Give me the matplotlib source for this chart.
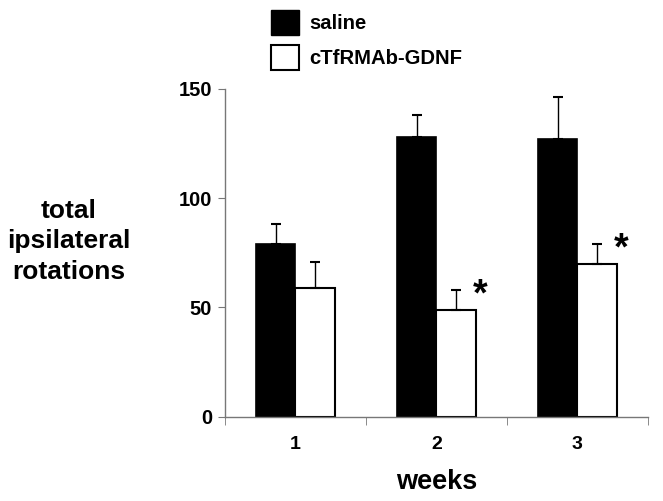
import matplotlib.pyplot as plt
from matplotlib.patches import Patch

weeks = ['1', '2', '3']
saline = [79, 128, 127]
saline_err = [9, 10, 19]
gdnf = [59, 49, 70]
gdnf_err = [12, 9, 9]
significant = [False, True, True]

plt.rcParams['font.family'] = ['Liberation Sans', 'DejaVu Sans']
plt.rcParams['font.weight'] = 'bold'

fig = plt.figure(figsize=(6.63, 5.01), dpi=100)
ax = fig.add_axes([0.339, 0.168, 0.638, 0.655])

x = list(range(1, len(weeks) + 1))
width = 0.28
xs = [i - width / 2 for i in x]
xg = [i + width / 2 for i in x]

ax.bar(xs, saline, width, color='black', edgecolor='black', linewidth=1.2)
ax.bar(xg, gdnf, width, color='white', edgecolor='black', linewidth=1.5)
ax.errorbar(xs, saline, yerr=[[0] * 3, saline_err], fmt='none', ecolor='black',
            elinewidth=1, capsize=3.5, capthick=1.5)
ax.errorbar(xg, gdnf, yerr=[[0] * 3, gdnf_err], fmt='none', ecolor='black',
            elinewidth=1, capsize=3.5, capthick=1.5)

# significance marks next to the error bar tops
for xi, val, err, sig in zip(xg, gdnf, gdnf_err, significant):
    if sig:
        ax.text(xi + width / 2 + 0.03, val + err - 2.5, '*', fontsize=27, fontweight='bold',
                ha='center', va='center')

ax.set_xlim(0.5, 3.5)
ax.set_ylim(0, 150)
ax.set_yticks([0, 50, 100, 150])
ax.set_xticks(x)
ax.set_xticklabels(weeks)
ax.set_xticks([0.5, 1.5, 2.5, 3.5], minor=True)
ax.tick_params(axis='x', which='major', length=0, pad=14, labelsize=14)
ax.tick_params(axis='x', which='minor', length=6, color='#777777')
ax.tick_params(axis='y', length=5, color='#777777', labelsize=14.5, pad=4)

for s in ['top', 'right']:
    ax.spines[s].set_visible(False)
for s in ['left', 'bottom']:
    ax.spines[s].set_color('#777777')
    ax.spines[s].set_linewidth(1)

ax.set_xlabel('weeks', fontsize=19.5, fontweight='bold', labelpad=11)
fig.text(0.104, 0.518, 'total\nipsilateral\nrotations', fontsize=19, fontweight='bold',
         ha='center', va='center', linespacing=1.32)

handles = [Patch(facecolor='black', edgecolor='black'),
           Patch(facecolor='white', edgecolor='black', linewidth=1.5)]
fig.legend(handles, ['saline', 'cTfRMAb-GDNF'], loc='upper left',
           bbox_to_anchor=(271 / 663, 1 - 10 / 501), frameon=False, fontsize=14.6,
           handlelength=1.37, handleheight=1.55, handletextpad=0.54, labelspacing=0.45,
           borderpad=0, borderaxespad=0)

fig.savefig('out.png', dpi=100)
